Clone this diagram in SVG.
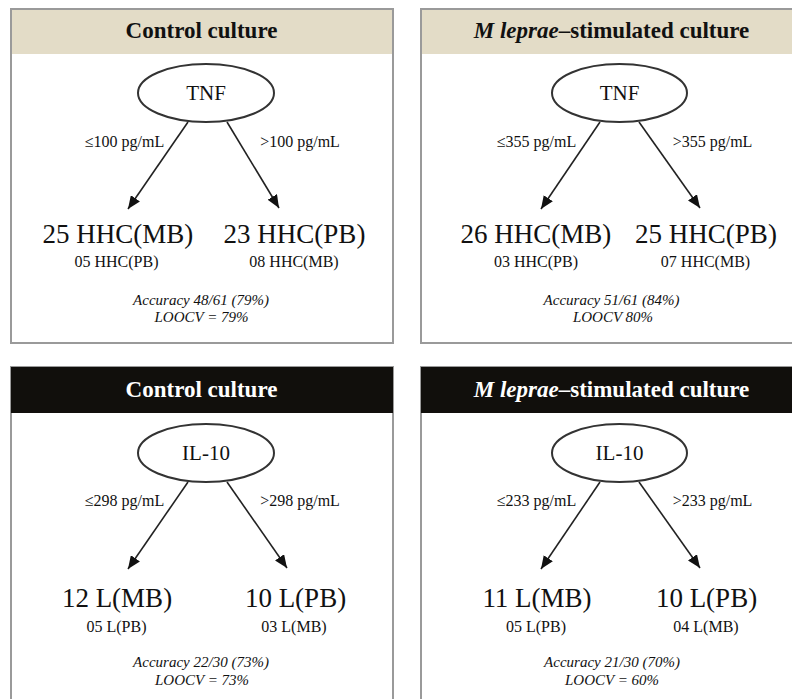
<svg xmlns="http://www.w3.org/2000/svg" width="792" height="699" viewBox="0 0 792 699" font-family="Liberation Serif, Tinos, Times New Roman, DejaVu Serif, serif">
<defs>
<marker id="ah" markerUnits="userSpaceOnUse" markerWidth="13" markerHeight="11" refX="13" refY="5.5" orient="auto">
<path d="M0,0 L13,5.5 L0,11 z" fill="#111"/>
</marker>
<style>
text{font-family:'Liberation Serif',Tinos,'Times New Roman','DejaVu Serif',serif;fill:#111;text-anchor:middle}
.frame{fill:#fff;stroke:#9a9a9a;stroke-width:2}
.hbeige{fill:#e3dcc7}
.hblack{fill:#110f0c}
.ht{font-size:23px;font-weight:bold}
.htw{font-size:23px;font-weight:bold;fill:#fff}
.node{fill:#fff;stroke:#333;stroke-width:2}
.nt{font-size:21px}
.lbl{font-size:16px}
.big{font-size:27px}
.sm{font-size:16px}
.acc{font-size:15px;font-style:italic}
.edge{stroke:#222;stroke-width:1.6;fill:none;marker-end:url(#ah)}
</style>
</defs>
<rect width="792" height="699" fill="#fff"/>

<g id="panel-tl">
<rect class="frame" x="11" y="9" width="382" height="334"/>
<rect class="hbeige" x="12" y="10" width="380" height="44"/>
<text class="ht" x="201.5" y="38">Control culture</text>
</g>
<g id="panel-tr">
<rect class="frame" x="421" y="9" width="380" height="334"/>
<rect class="hbeige" x="422" y="10" width="370" height="44"/>
<text class="ht" x="611.5" y="38"><tspan font-style="italic">M leprae</tspan>–stimulated culture</text>
</g>
<g id="panel-bl">
<rect class="frame" x="11" y="367" width="382" height="340"/>
<rect class="hblack" x="11" y="367" width="382" height="46"/>
<text class="htw" x="201.5" y="397">Control culture</text>
</g>
<g id="panel-br">
<rect class="frame" x="421" y="367" width="380" height="340"/>
<rect class="hblack" x="421" y="367" width="371" height="46"/>
<text class="htw" x="611.5" y="397"><tspan font-style="italic">M leprae</tspan>–stimulated culture</text>
</g>

<g id="connectors">
<line class="edge" x1="188" y1="122" x2="128" y2="209"/>
<line class="edge" x1="227" y1="122" x2="279" y2="208"/>
<line class="edge" x1="600" y1="122" x2="541" y2="209"/>
<line class="edge" x1="639" y1="122" x2="700" y2="208"/>
<line class="edge" x1="188" y1="482" x2="128" y2="569"/>
<line class="edge" x1="227" y1="482" x2="287" y2="568"/>
<line class="edge" x1="600" y1="482" x2="541" y2="569"/>
<line class="edge" x1="639" y1="482" x2="700" y2="568"/>
<text class="lbl" x="124.5" y="147">≤100 pg/mL</text>
<text class="lbl" x="300" y="147">&gt;100 pg/mL</text>
<text class="lbl" x="536.5" y="147">≤355 pg/mL</text>
<text class="lbl" x="712.5" y="147">&gt;355 pg/mL</text>
<text class="lbl" x="124.5" y="506">≤298 pg/mL</text>
<text class="lbl" x="300" y="506">&gt;298 pg/mL</text>
<text class="lbl" x="536.5" y="506">≤233 pg/mL</text>
<text class="lbl" x="712.5" y="506">&gt;233 pg/mL</text>
</g>

<g id="node-tnf-control">
<ellipse class="node" cx="206" cy="93" rx="68" ry="29"/>
<text class="nt" x="206" y="100">TNF</text>
</g>
<g id="node-tnf-mlep">
<ellipse class="node" cx="619.5" cy="93" rx="67.5" ry="29"/>
<text class="nt" x="619.5" y="100">TNF</text>
</g>
<g id="node-il10-control">
<ellipse class="node" cx="206" cy="453" rx="68" ry="29"/>
<text class="nt" x="206" y="460">IL-10</text>
</g>
<g id="node-il10-mlep">
<ellipse class="node" cx="619.5" cy="453" rx="67.5" ry="29"/>
<text class="nt" x="619.5" y="460">IL-10</text>
</g>

<g id="leaf-tl-left">
<text class="big" x="118" y="243">25 HHC(MB)</text>
<text class="sm" x="116.5" y="267">05 HHC(PB)</text>
</g>
<g id="leaf-tl-right">
<text class="big" x="294.5" y="243">23 HHC(PB)</text>
<text class="sm" x="294" y="267">08 HHC(MB)</text>
</g>
<g id="acc-tl">
<text class="acc" x="201" y="305">Accuracy 48/61 (79%)</text>
<text class="acc" x="201.5" y="322">LOOCV = 79%</text>
</g>

<g id="leaf-tr-left">
<text class="big" x="536" y="243">26 HHC(MB)</text>
<text class="sm" x="536" y="267">03 HHC(PB)</text>
</g>
<g id="leaf-tr-right">
<text class="big" x="706" y="243">25 HHC(PB)</text>
<text class="sm" x="705.5" y="267">07 HHC(MB)</text>
</g>
<g id="acc-tr">
<text class="acc" x="611.5" y="305">Accuracy 51/61 (84%)</text>
<text class="acc" x="613" y="322">LOOCV 80%</text>
</g>

<g id="leaf-bl-left">
<text class="big" x="117" y="607">12 L(MB)</text>
<text class="sm" x="116.5" y="632">05 L(PB)</text>
</g>
<g id="leaf-bl-right">
<text class="big" x="295.5" y="607">10 L(PB)</text>
<text class="sm" x="294" y="632">03 L(MB)</text>
</g>
<g id="acc-bl">
<text class="acc" x="201" y="667">Accuracy 22/30 (73%)</text>
<text class="acc" x="202" y="685">LOOCV = 73%</text>
</g>

<g id="leaf-br-left">
<text class="big" x="537" y="607">11 L(MB)</text>
<text class="sm" x="536" y="632">05 L(PB)</text>
</g>
<g id="leaf-br-right">
<text class="big" x="706.5" y="607">10 L(PB)</text>
<text class="sm" x="706" y="632">04 L(MB)</text>
</g>
<g id="acc-br">
<text class="acc" x="612" y="667">Accuracy 21/30 (70%)</text>
<text class="acc" x="612" y="685">LOOCV = 60%</text>
</g>
</svg>
